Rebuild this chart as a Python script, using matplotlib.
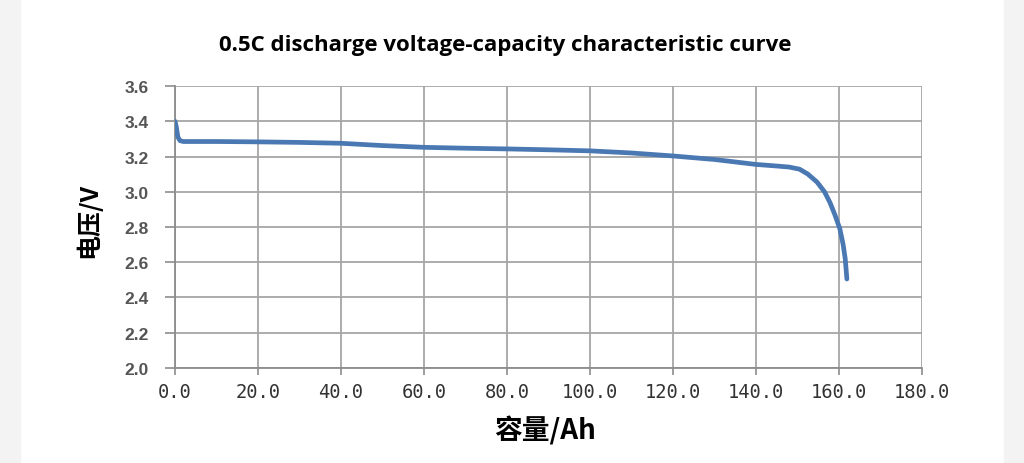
import matplotlib
matplotlib.use('Agg')
import matplotlib.pyplot as plt
import numpy as np

# discharge curve
capacity = [0.0, 0.3, 0.7, 1.2, 2.0, 5.0, 10.0, 20.0, 30.0, 40.0, 50.0, 60.0, 70.0,
            80.0, 90.0, 100.0, 110.0, 120.0, 130.0, 140.0, 145.0, 148.0, 150.5,
            152.5, 154.7, 156.5, 157.8, 159.0, 160.2, 161.0, 161.5, 161.9]
voltage = [3.40, 3.37, 3.31, 3.29, 3.285, 3.285, 3.285, 3.283, 3.28, 3.275, 3.262, 3.252, 3.247,
           3.243, 3.238, 3.232, 3.22, 3.203, 3.183, 3.155, 3.146, 3.14, 3.128,
           3.10, 3.055, 3.00, 2.94, 2.87, 2.79, 2.70, 2.62, 2.505]

x_ticks = np.arange(0, 181, 20)
x_labels = ['%.1f' % v for v in x_ticks]
y_ticks = np.arange(2.0, 3.61, 0.2)
y_labels = ['%.1f' % v for v in y_ticks]

fig = plt.figure(figsize=(10.24, 4.64), dpi=100)
fig.patch.set_facecolor('white')
# grey strips at the screenshot edges
fig.add_artist(plt.Rectangle((0, 0), 20/1024, 1, transform=fig.transFigure, color='#f3f3f3', zorder=0))
fig.add_artist(plt.Rectangle((1004/1024, 0), 20/1024, 1, transform=fig.transFigure, color='#f3f3f3', zorder=0))

ax = fig.add_axes([175/1024, 1 - 369/464, (922-175)/1024, (369-87)/464])
ax.plot(capacity, voltage, color='#4a78b2', lw=3.4, solid_capstyle='round', zorder=3)

ax.set_xlim(0, 180)
ax.set_ylim(2.0, 3.6)
ax.set_xticks(x_ticks)
ax.set_xticklabels(x_labels, family='DejaVu Sans Mono', fontsize=13.5, color='#333333')
ax.set_yticks(y_ticks)
ax.set_yticklabels(y_labels, family='Liberation Sans', fontsize=12.5, fontweight='bold',
                   color='#555555')
ax.grid(True, color='#a6a6a6', lw=1.3)
for s in ['top', 'right']:
    ax.spines[s].set_visible(False)
for s in ['left', 'bottom']:
    ax.spines[s].set_color('#8c8c8c')
    ax.spines[s].set_linewidth(1.3)
ax.tick_params(axis='both', direction='out', color='#8c8c8c', width=1.2)
ax.tick_params(axis='x', length=5, pad=5)
ax.tick_params(axis='y', length=7, pad=12)

fig.text(505/1024, 1 - 45/464, '0.5C discharge voltage-capacity characteristic curve',
         family='Open Sans', fontweight='bold', fontsize=16, ha='center', va='center')
ax.set_xlabel('容量/Ah', family=['Noto Sans CJK SC', 'DejaVu Sans'], fontweight='bold',
              fontsize=20)
ax.xaxis.set_label_coords(0.495, -0.22)
ax.xaxis.label.set_va('center')
ax.set_ylabel('电压/V', family=['Noto Sans CJK SC', 'DejaVu Sans'], fontweight='bold',
              fontsize=18)
ax.yaxis.set_label_coords(-0.116, 0.528)
ax.yaxis.label.set_va('center')

fig.savefig('out.png', dpi=100)
